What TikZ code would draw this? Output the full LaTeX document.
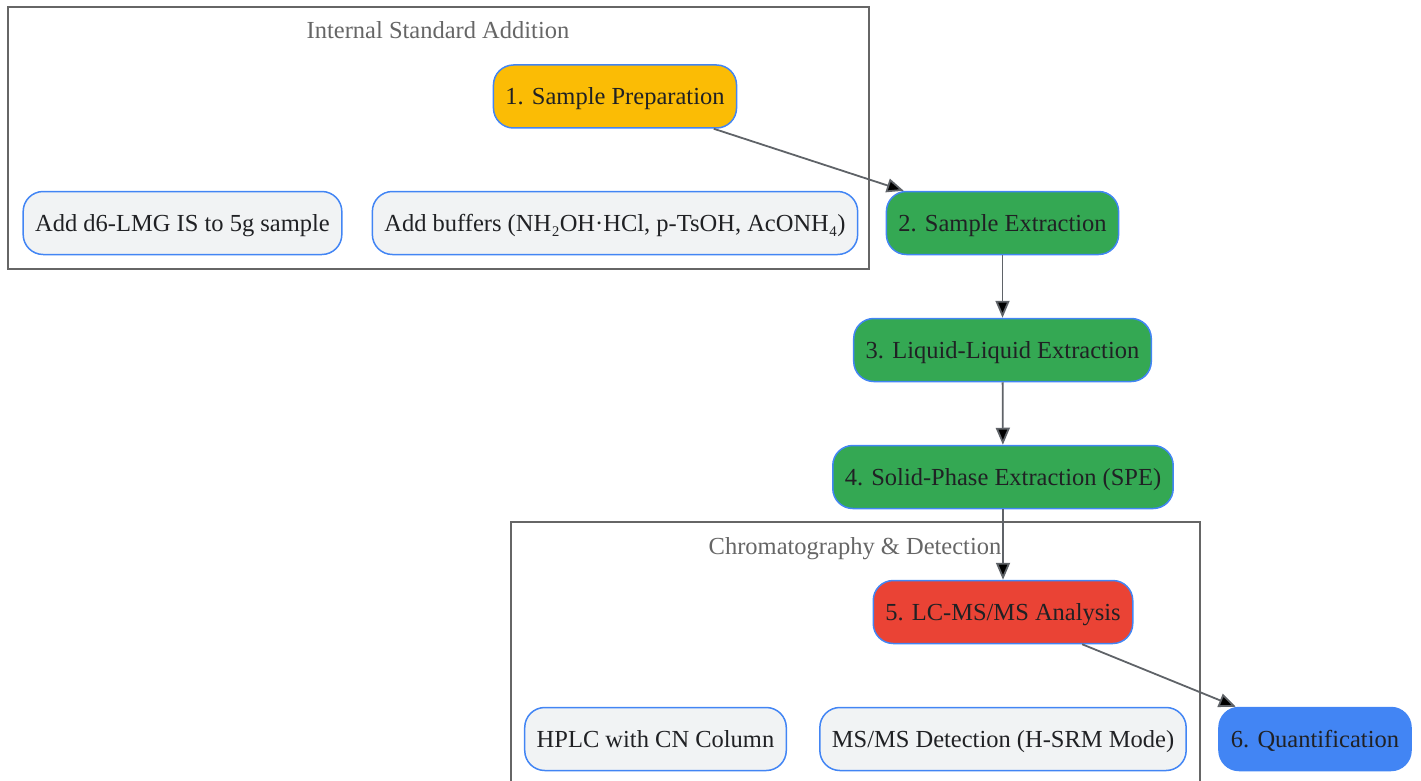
\documentclass[tikz,border=0pt]{standalone}
\usepackage{fontspec}
\setmainfont{Liberation Serif}
\usetikzlibrary{
	positioning				% relative placement
	, arrows.meta			% Triangle arrow tips
	, shapes
}

\definecolor{prepYellow}{HTML}{FBBC05}
\definecolor{extractGreen}{HTML}{34A853}
\definecolor{analysisRed}{HTML}{EA4335}
\definecolor{quantBlue}{HTML}{4285F4}
\definecolor{detailGrey}{HTML}{F1F3F4}
\definecolor{clusterGrey}{HTML}{666666}
\definecolor{arrowGrey}{HTML}{5F6368}
\definecolor{textDark}{HTML}{202124}

\begin{document}
\begin{tikzpicture}[x=1pt, y=-1pt,
				element/.style={
				rectangle,
				rounded corners=20pt,
				draw=quantBlue, line width=1.5pt,
				minimum height=63pt,
				inner xsep=12pt,
				text height=18pt, text depth=1pt,
				text=textDark,
				font=\fontsize{24.5}{28}\selectfont,
				text centered
			},
			detail/.style={
				element,
				fill=detailGrey
			},
			cluster/.style={
				draw=clusterGrey,
				line width=1.5pt
			},
			clustertitle/.style={
				text=clusterGrey,
				text height=18pt, text depth=1pt,
				font=\fontsize{24.5}{28}\selectfont
			},
			arrow/.style={
				->,
				draw=arrowGrey,
				line width=1.8pt
			},
			>={Triangle[length=17pt, width=14pt]}]

			\clip (0,0) rectangle (1421,781);

			%%% The two groups of sub steps
			\draw [cluster] (8,7) rectangle (869,269);
			\node [clustertitle] (titleIS) at (438,30) {Internal Standard Addition};
			\draw [cluster] (511,522) rectangle (1200,800);
			\node [clustertitle] (titleLC) at (855,546) {Chromatography \& Detection};

			%%% Main steps
			\node [element, fill=prepYellow] (prep) at (615,96.5) {1. Sample Preparation};
			\node [element, fill=extractGreen] (extract) at (1002.5,223) {2. Sample Extraction};
			\node [element, fill=extractGreen] (lle) at (1002.5,350) {3. Liquid-Liquid Extraction};
			\node [element, fill=extractGreen] (spe) at (1003,477) {4. Solid-Phase Extraction (SPE)};
			\node [element, fill=analysisRed] (lcms) at (1003,612) {5. LC-MS/MS Analysis};
			\node [element, fill=quantBlue] (quant) at (1315,739) {6. Quantification};

			%%% Sub steps inside the groups
			\node [detail] (addIS) at (182.5,223) {Add d6-LMG IS to 5g sample};
			\node [detail] (addBuffer) at (615,223) {Add buffers (NH₂OH·HCl, p-TsOH, AcONH₄)};
			\node [detail] (hplc) at (655.5,739) {HPLC with CN Column};
			\node [detail] (msms) at (1003,739) {MS/MS Detection (H-SRM Mode)};

			%%% Flow between the main steps
			\foreach \from/\to in {prep/extract, extract/lle, lle/spe, spe/lcms, lcms/quant} {
				\path [arrow] (\from) edge (\to);
			};

		\end{tikzpicture}
\end{document}
